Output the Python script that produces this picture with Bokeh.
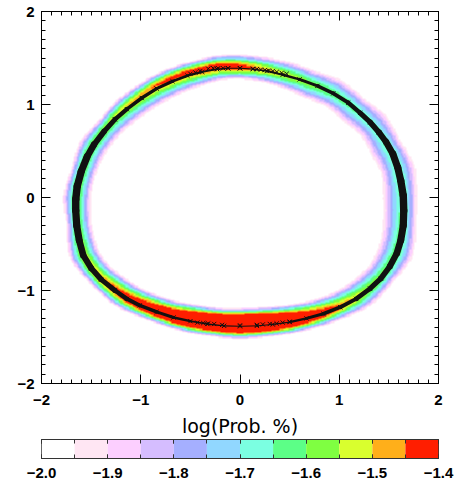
import numpy as np
from bokeh.plotting import figure
from bokeh.models import (Range1d, LinearAxis, SingleIntervalTicker, FixedTicker,
                          CustomJSTickFormatter, LinearColorMapper)
from bokeh.layouts import column
from bokeh.embed import file_html
from bokeh.resources import INLINE

# ---- data ----
# track (ring) positions, counterclockwise from the right-hand extreme
ring_x = [1.65, 1.645, 1.62, 1.59, 1.54, 1.47, 1.40, 1.31, 1.21, 1.09, 0.94, 0.78, 0.60,
          0.43, 0.27, 0.13, 0.00, -0.12, -0.23, -0.38, -0.53, -0.68, -0.84, -0.99, -1.14,
          -1.26, -1.37, -1.47, -1.54, -1.60, -1.64, -1.655, -1.655, -1.645, -1.62, -1.58,
          -1.50, -1.40, -1.26, -1.14, -1.01, -0.84, -0.67, -0.50, -0.33, -0.16, 0.00, 0.17,
          0.33, 0.50, 0.67, 0.84, 1.01, 1.17, 1.31, 1.42, 1.51, 1.58, 1.62, 1.645]
ring_y = [-0.14, 0.02, 0.18, 0.32, 0.47, 0.60, 0.70, 0.81, 0.91, 1.02, 1.12, 1.20, 1.27,
          1.32, 1.36, 1.38, 1.39, 1.39, 1.38, 1.35, 1.31, 1.25, 1.17, 1.07, 0.95,
          0.84, 0.71, 0.57, 0.44, 0.28, 0.12, -0.02, -0.14, -0.30, -0.46, -0.62,
          -0.76, -0.88, -1.00, -1.09, -1.16, -1.23, -1.29, -1.33, -1.36, -1.38, -1.385, -1.38,
          -1.365, -1.34, -1.30, -1.25, -1.18, -1.09, -0.98, -0.87, -0.74, -0.60, -0.46, -0.30]
# density profile across the track, by position angle (degrees) around the ring:
# log(Prob. %) at the ridge, outward offset of the ridge from the track,
# and distance from the ridge to the -2.0 contour inward / outward
prof_angle = [0, 10, 20, 30, 40, 50, 60, 70, 80, 90, 100, 110,
              120, 130, 140, 150, 160, 170, 180, 190, 200, 210, 220, 230,
              240, 250, 260, 270, 280, 290, 300, 310, 320, 330, 340, 350]
prof_peak = [-1.62, -1.63, -1.63, -1.65, -1.62, -1.60, -1.56, -1.52, -1.47, -1.39, -1.37, -1.40,
             -1.42, -1.46, -1.50, -1.54, -1.56, -1.56, -1.55, -1.56, -1.52, -1.46, -1.38, -1.28,
             -1.18, -1.05, -0.98, -0.95, -0.98, -1.10, -1.28, -1.42, -1.52, -1.57, -1.60, -1.61]
prof_shift = [0.0, 0.0, 0.0, 0.0, 0.0, 0.0, 0.0, 0.01, 0.015, 0.02, 0.03, 0.04,
              0.04, 0.035, 0.03, 0.02, 0.01, 0.0, 0.0, 0.0, 0.0, 0.0, 0.0, 0.0,
              0.0, -0.01, -0.02, -0.02, -0.02, -0.01, 0.0, 0.0, 0.0, 0.0, 0.0, 0.0]
prof_w_in = [0.22, 0.19, 0.22, 0.18, 0.20, 0.17, 0.18, 0.16, 0.145, 0.14, 0.16, 0.20,
             0.21, 0.21, 0.20, 0.18, 0.17, 0.16, 0.16, 0.16, 0.17, 0.17, 0.18, 0.18,
             0.18, 0.18, 0.17, 0.18, 0.18, 0.18, 0.18, 0.18, 0.19, 0.19, 0.21, 0.22]
prof_w_out = [0.16, 0.20, 0.15, 0.20, 0.16, 0.19, 0.16, 0.16, 0.145, 0.14, 0.13, 0.11,
              0.12, 0.12, 0.13, 0.11, 0.15, 0.12, 0.15, 0.12, 0.16, 0.13, 0.15, 0.13,
              0.13, 0.15, 0.16, 0.17, 0.16, 0.15, 0.14, 0.14, 0.17, 0.14, 0.19, 0.15]
# individually visible samples near the top and bottom of the track
sample_x = [-0.50, -0.45, -0.40, -0.32, -0.27, -0.22, -0.17, -0.12, 0.00, 0.13, 0.17,
            0.21, 0.25, 0.29, 0.33, 0.37, 0.42, 0.47,
            -0.43, -0.37, -0.32, -0.26, -0.18, 0.00, 0.17, 0.23, 0.30, 0.37, 0.43, 0.50]
sample_y = [1.33, 1.345, 1.36, 1.385, 1.39, 1.39, 1.39, 1.39, 1.39, 1.385, 1.38,
            1.375, 1.37, 1.365, 1.36, 1.35, 1.34, 1.33,
            -1.345, -1.35, -1.355, -1.36, -1.37, -1.375, -1.37, -1.365, -1.36, -1.355,
            -1.345, -1.335]

levels = [-2.0, -1.95, -1.9, -1.85, -1.8, -1.75, -1.7, -1.65, -1.6, -1.55, -1.5, -1.45, -1.4]
level_colors = ["#FFFFFF", "#FFE6F3", "#FCCFFF", "#D5BDFF", "#A5AFFF", "#91D7FF",
                "#7BFFE1", "#5CFF87", "#7FFF41", "#D9FF2E", "#FFAF1A", "#FF1E00"]
cbar_ticks = [-2.0, -1.9, -1.8, -1.7, -1.6, -1.5, -1.4]
cbar_labels = ["−2.0", "−1.9", "−1.8", "−1.7", "−1.6", "−1.5", "−1.4"]
axis_ticks = [-2, -1, 0, 1, 2]
axis_labels = ["−2", "−1", "0", "1", "2"]


def by_angle(ang, table):
    return np.interp(ang, prof_angle, table, period=360)


# ---- density field built from the track profile ----
N = 320
xs = np.linspace(-2, 2, N)
ys = np.linspace(-2, 2, N)
gx, gy = np.meshgrid(xs, ys)
ax_ = np.array(ring_x); ay_ = np.array(ring_y)
bx_ = np.roll(ax_, -1); by_ = np.roll(ay_, -1)
dx = bx_ - ax_; dy = by_ - ay_
L2 = dx * dx + dy * dy
flat_x = gx.ravel(); flat_y = gy.ravel()
zflat = np.full(flat_x.shape, np.nan)
chunk = 5000
for s in range(0, flat_x.size, chunk):
    px = flat_x[s:s + chunk, None]; py = flat_y[s:s + chunk, None]
    t = np.clip(((px - ax_) * dx + (py - ay_) * dy) / L2, 0, 1)
    cx = ax_ + t * dx; cy = ay_ + t * dy
    dist = np.hypot(px - cx, py - cy)
    k = np.argmin(dist, axis=1)
    r = np.arange(k.size)
    ncx = cx[r, k]; ncy = cy[r, k]; dk = dist[r, k]
    cross = dx[k] * (py[:, 0] - ay_[k]) - dy[k] * (px[:, 0] - ax_[k])
    sd = np.where(cross > 0, -dk, dk)          # signed distance, + outward
    ang = np.degrees(np.arctan2(ncy, ncx)) % 360
    pk = by_angle(ang, prof_peak)
    d = sd - by_angle(ang, prof_shift)
    w = np.where(d < 0, by_angle(ang, prof_w_in), by_angle(ang, prof_w_out))
    f = np.abs(d) / w
    z = pk - (pk + 2.0) * f ** 1.35
    z[f > 1] = np.nan
    zflat[s:s + chunk] = z
Z = zflat.reshape(gx.shape)

# ---- main plot ----
FONT = "Liberation Sans"
p = figure(width=459, height=411, x_range=Range1d(-2, 2), y_range=Range1d(-2, 2),
           output_backend="svg", toolbar_location=None,
           min_border_left=41, min_border_right=21, min_border_top=11, min_border_bottom=28)
p.grid.visible = False
p.outline_line_color = "black"
p.background_fill_color = "white"

mapper = LinearColorMapper(palette=level_colors, low=levels[0], high=levels[-1],
                           nan_color="rgba(0,0,0,0)", low_color="rgba(0,0,0,0)",
                           high_color=level_colors[-1])
p.image(image=[Z], x=-2, y=-2, dw=4, dh=4, color_mapper=mapper)

# track drawn as segments, thicker where the samples pile up (style by angle)
width_angle = [0, 15, 30, 45, 60, 75, 90, 105, 120, 135, 150, 165,
               180, 195, 210, 225, 240, 255, 270, 285, 300, 315, 330, 345]
width_px = [7.5, 7, 5.5, 4, 3, 2, 1, 2, 3, 3.5, 5, 7, 7.5, 7, 5.5, 4, 3, 1.5, 1, 1, 3, 4, 5.5, 7]
n = len(ring_x)
seg_xs = [[ring_x[i], ring_x[(i + 1) % n]] for i in range(n)]
seg_ys = [[ring_y[i], ring_y[(i + 1) % n]] for i in range(n)]
mid_ang = [np.degrees(np.arctan2(sum(sy) / 2, sum(sx) / 2)) % 360 for sx, sy in zip(seg_xs, seg_ys)]
seg_w = list(np.interp(mid_ang, width_angle, width_px, period=360))
p.multi_line(xs=seg_xs, ys=seg_ys, line_width=seg_w, line_color="#111111",
             line_cap="round", line_join="round")
p.scatter(x=ring_x, y=ring_y, marker="x", size=6, line_color="#111111", line_width=1)
p.scatter(x=sample_x, y=sample_y, marker="x", size=6, line_color="#111111", line_width=1)

ticker = SingleIntervalTicker(interval=1, num_minor_ticks=10)
blank = CustomJSTickFormatter(code="return ''")
xb = p.below[0]
yl = p.left[0]
xb.ticker = ticker
yl.ticker = ticker
xb.major_label_overrides = dict(zip(axis_ticks, axis_labels))
yl.major_label_overrides = dict(zip(axis_ticks, axis_labels))
xt = LinearAxis(ticker=ticker, formatter=blank)
yr = LinearAxis(ticker=ticker, formatter=blank)
p.add_layout(xt, "above")
p.add_layout(yr, "right")
for ax in (xb, yl, xt, yr):
    ax.axis_line_color = "black"
    ax.major_tick_line_color = "black"
    ax.minor_tick_line_color = "black"
    ax.major_tick_in = 9
    ax.major_tick_out = 0
    ax.minor_tick_in = 4
    ax.minor_tick_out = 0
    ax.major_label_text_font = FONT
    ax.major_label_text_font_style = "bold"
    ax.major_label_text_font_size = "15px"
    ax.major_label_text_color = "black"
for ax in (xt, yr):
    ax.major_label_text_font_size = "0px"
    ax.major_label_standoff = 0
xb.major_label_standoff = 11
yl.major_label_standoff = 7

# ---- colour bar (with its title above it) ----
cb = figure(width=459, height=73, x_range=Range1d(levels[0], levels[-1]), y_range=Range1d(0, 1),
            output_backend="svg", toolbar_location=None, y_axis_location=None,
            min_border_left=41, min_border_right=20, min_border_top=27, min_border_bottom=26)
cb.grid.visible = False
cb.outline_line_color = "#333333"
cb.quad(left=levels[:-1], right=levels[1:], bottom=0, top=1,
        fill_color=level_colors, line_color=None)
cticker = FixedTicker(ticks=cbar_ticks, minor_ticks=levels)
cxb = cb.below[0]
cxb.ticker = cticker
cxb.major_label_overrides = dict(zip(cbar_ticks, cbar_labels))
cxt = LinearAxis(ticker=cticker, formatter=blank)
cb.add_layout(cxt, "above")
for ax in (cxb, cxt):
    ax.axis_line_color = "#333333"
    ax.major_tick_line_color = "#333333"
    ax.minor_tick_line_color = "#333333"
    ax.major_tick_in = 4
    ax.major_tick_out = 0
    ax.minor_tick_in = 4
    ax.minor_tick_out = 0
    ax.major_label_text_font = FONT
    ax.major_label_text_font_style = "bold"
    ax.major_label_text_font_size = "15px"
    ax.major_label_text_color = "black"
cxt.major_label_text_font_size = "0px"
cxt.major_label_standoff = 0
cxt.axis_label = "log(Prob. %)"
cxt.axis_label_text_font = "DejaVu Sans"
cxt.axis_label_text_font_style = "normal"
cxt.axis_label_text_font_size = "19px"
cxt.axis_label_text_color = "black"
cxt.axis_label_standoff = 3
cxb.major_label_standoff = 9

layout = column(p, cb, spacing=0)
open("out.html", "w").write(file_html(layout, INLINE))
